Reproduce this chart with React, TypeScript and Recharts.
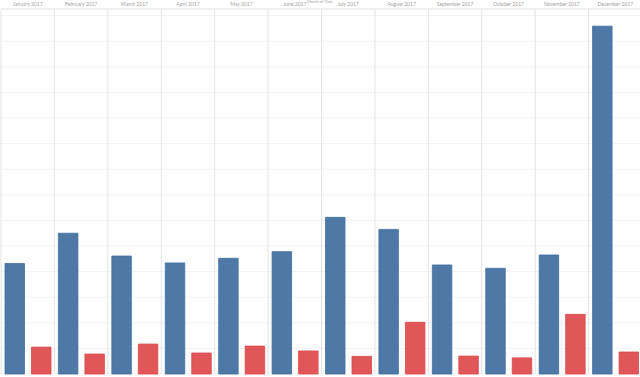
import { BarChart, Bar, XAxis, YAxis, CartesianGrid } from "recharts";

const MONTHS = [
  "January 2017",
  "February 2017",
  "March 2017",
  "April 2017",
  "May 2017",
  "June 2017",
  "July 2017",
  "August 2017",
  "September 2017",
  "October 2017",
  "November 2017",
  "December 2017",
];

const BLUE_VALUES = [432, 550, 461, 434, 452, 478, 612, 565, 426, 413, 465, 1359];
const RED_VALUES = [105, 78, 117, 82, 109, 90, 69, 202, 70, 63, 233, 86];

const Y_TICKS = [0, 100, 200, 300, 400, 500, 600, 700, 800, 900, 1000, 1100, 1200, 1300, 1400];

const data = MONTHS.map((month, i) => ({
  month,
  blue: BLUE_VALUES[i],
  red: RED_VALUES[i],
}));

function MonthTick({ x, y, payload }: { x?: number; y?: number; payload?: { value: string } }) {
  return (
    <text
      x={x}
      y={(y ?? 0) - 1.5}
      textAnchor="middle"
      fontSize={5}
      fill="#a3a3a3"
      fontFamily="Lato, 'Open Sans', sans-serif"
    >
      {payload?.value}
    </text>
  );
}

// panel separators sit on band edges, not on tick centres
const panelEdges = ({ offset }: { offset: { left: number; width: number } }) =>
  MONTHS.map((_, i) => offset.left + (i * offset.width) / MONTHS.length).concat(
    offset.left + offset.width
  );

export default function App() {
  return (
    <div
      style={{
        position: "absolute",
        left: 0,
        top: 0,
        width: 640,
        height: 377,
        overflow: "hidden",
        background: "#fff",
      }}
    >
      <div
        style={{
          position: "absolute",
          left: 0,
          width: 640,
          top: 0,
          lineHeight: "4px",
          textAlign: "center",
          fontSize: 4,
          color: "#a3a3a3",
          fontFamily: "Lato, sans-serif",
        }}
      >
        Month of Date
      </div>
      <BarChart
        width={642}
        height={377}
        data={data}
        margin={{ top: 0, right: 0, left: 1, bottom: 3 }}
        barSize={19.5}
        barGap={7}
      >
        <CartesianGrid vertical={false} stroke="#f3f3f3" />
        <CartesianGrid
          horizontal={false}
          stroke="#e4e4e4"
          verticalCoordinatesGenerator={panelEdges as any}
        />
        <XAxis
          dataKey="month"
          orientation="top"
          height={9}
          interval={0}
          tickLine={false}
          tickSize={0}
          axisLine={{ stroke: "#e6e6e6" }}
          tick={<MonthTick />}
        />
        <YAxis hide domain={[0, 1426]} ticks={Y_TICKS} />
        <Bar
          dataKey="blue"
          fill="#4e79a7"
          stroke="#3f6e9f"
          strokeWidth={0.8}
          isAnimationActive={false}
        />
        <Bar
          dataKey="red"
          fill="#e15759"
          stroke="#d9474a"
          strokeWidth={0.8}
          isAnimationActive={false}
        />
      </BarChart>
    </div>
  );
}
